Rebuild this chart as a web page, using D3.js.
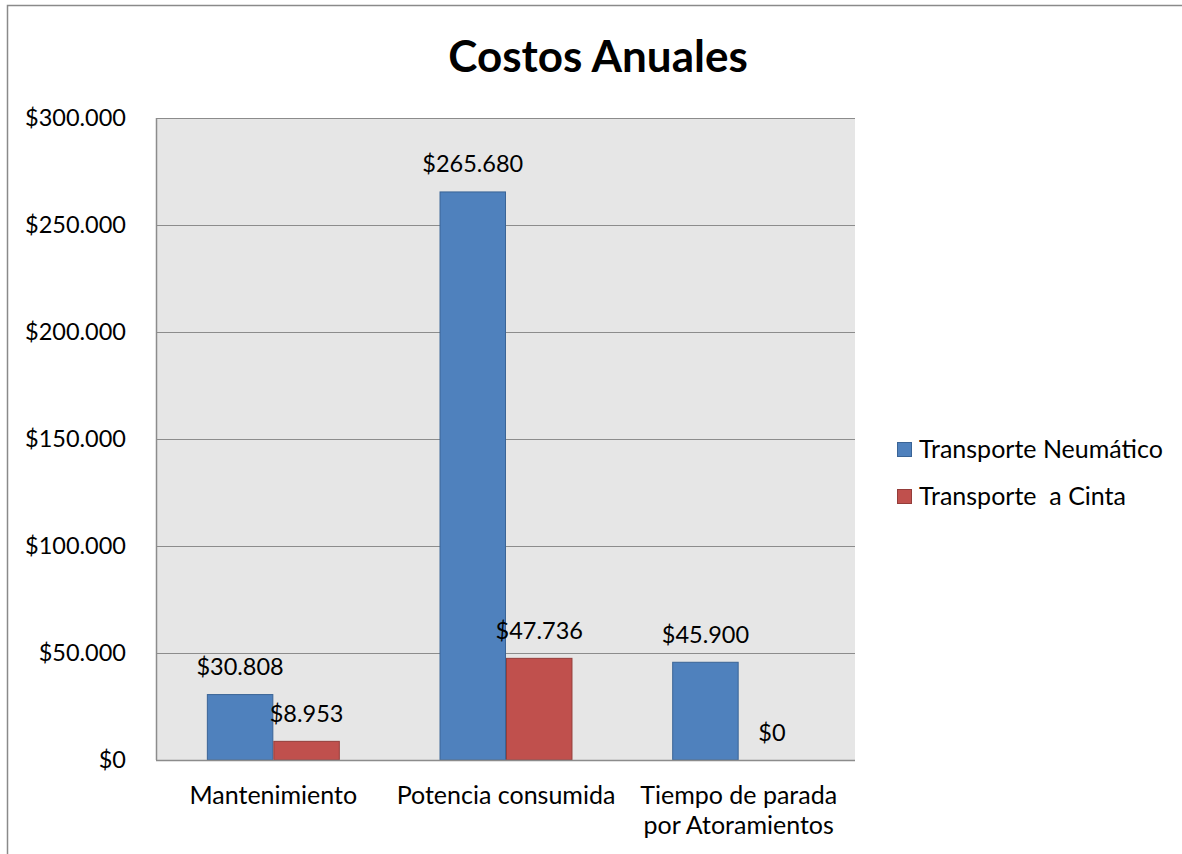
<!DOCTYPE html>
<html>
<head>
<meta charset="utf-8">
<script src="https://cdn.jsdelivr.net/npm/d3@7"></script>
<style>
  html, body { margin: 0; padding: 0; background: #fff; }
  svg { display: block; font-family: Lato, "Open Sans", sans-serif; }
  .pre { white-space: pre; }
</style>
</head>
<body>
<svg id="chart" width="1182" height="854"></svg>
<script>
const categories = [["Mantenimiento"], ["Potencia consumida"], ["Tiempo de parada", "por Atoramientos"]];
const seriesNames = ["Transporte Neumático", "Transporte  a Cinta"];
const neumatico = [30808, 265680, 45900];
const cinta = [8953, 47736, 0];
const yTicks = [0, 50000, 100000, 150000, 200000, 250000, 300000];
const colors = ["#4f81bd", "#c0504d"];
const strokes = ["#3a6496", "#943d3a"];

const svg = d3.select("#chart");
const locale = d3.formatLocale({decimal: ",", thousands: ".", grouping: [3], currency: ["$", ""]});
const fmt = locale.format("$,.0f");

const plot = {left: 157, right: 855, top: 118, bottom: 760};

// outer frame
svg.append("rect")
  .attr("x", 7.5).attr("y", 5.5).attr("width", 1200).attr("height", 900)
  .attr("fill", "#fff").attr("stroke", "#8a8a8a").attr("stroke-width", 1.5);

// plot background
svg.append("rect")
  .attr("x", plot.left).attr("y", plot.top)
  .attr("width", plot.right - plot.left).attr("height", plot.bottom - plot.top)
  .attr("fill", "#e6e6e6");

const y = d3.scaleLinear().domain([0, 300000]).range([plot.bottom, plot.top]);
const x0 = d3.scaleBand().domain(categories.map((d, i) => i)).range([plot.left, plot.right]).padding(0);
const bw = x0.bandwidth() / 3.5;
const x1 = d3.scaleBand().domain([0, 1]).range([0, 2 * bw]).padding(0);

// gridlines
svg.append("g").selectAll("line").data(yTicks.filter(d => d > 0)).join("line")
  .attr("x1", plot.left).attr("x2", plot.right)
  .attr("y1", d => Math.round(y(d)) + 0.5).attr("y2", d => Math.round(y(d)) + 0.5)
  .attr("stroke", "#8c8c8c").attr("stroke-width", 1.2);

// y axis
const yAxis = svg.append("g").attr("transform", `translate(${plot.left},0)`)
  .call(d3.axisLeft(y).tickValues(yTicks).tickSize(0).tickPadding(31).tickFormat(fmt));
yAxis.select(".domain").remove();
yAxis.selectAll("text").attr("font-size", 23.5).attr("fill", "#000").attr("font-family", "Lato, sans-serif");

svg.append("line").attr("x1", plot.left - 0.5).attr("x2", plot.left - 0.5)
  .attr("y1", plot.top).attr("y2", plot.bottom).attr("stroke", "#8c8c8c").attr("stroke-width", 1.5);

// bars
const series = [neumatico, cinta];
const groups = svg.append("g");
series.forEach((vals, si) => {
  groups.append("g").selectAll("rect").data(vals).join("rect")
    .attr("x", (d, i) => x0(i) + bw * 0.75 + x1(si) + 0.5)
    .attr("y", d => y(d) + 0.5)
    .attr("width", x1.bandwidth() - 1)
    .attr("height", d => Math.max(0, y(0) - y(d) - 0.5))
    .attr("fill", colors[si]).attr("stroke", strokes[si]).attr("stroke-width", 1);
});

// bottom axis line
svg.append("line").attr("x1", plot.left - 1).attr("x2", plot.right)
  .attr("y1", plot.bottom + 0.5).attr("y2", plot.bottom + 0.5).attr("stroke", "#8c8c8c").attr("stroke-width", 1.5);

// data labels
series.forEach((vals, si) => {
  svg.append("g").selectAll("text").data(vals).join("text")
    .attr("x", (d, i) => x0(i) + bw * 0.75 + x1(si) + x1.bandwidth() / 2)
    .attr("y", d => y(d) - 19)
    .attr("text-anchor", "middle").attr("font-size", 23.5).attr("fill", "#000")
    .text(d => fmt(d));
});

// category labels
const xl = svg.append("g");
categories.forEach((lines, i) => {
  const t = xl.append("text").attr("text-anchor", "middle").attr("font-size", 25).attr("fill", "#000");
  lines.forEach((l, li) => {
    t.append("tspan").attr("x", x0(i) + x0.bandwidth() / 2).attr("y", 804 + li * 30).text(l);
  });
});

// title
svg.append("text").attr("x", 598).attr("y", 72).attr("text-anchor", "middle")
  .attr("font-size", 44).attr("font-weight", "bold").attr("fill", "#000").text("Costos Anuales");

// legend
const lg = svg.append("g");
seriesNames.forEach((n, i) => {
  const yy = 442 + i * 47;
  lg.append("rect").attr("x", 897.5).attr("y", yy + 0.5).attr("width", 14).attr("height", 14)
    .attr("fill", colors[i]).attr("stroke", strokes[i]);
  lg.append("text").attr("class", "pre").attr("x", 919).attr("y", yy + 15.5).attr("font-size", 25).attr("fill", "#000").text(n);
});
</script>
</body>
</html>
